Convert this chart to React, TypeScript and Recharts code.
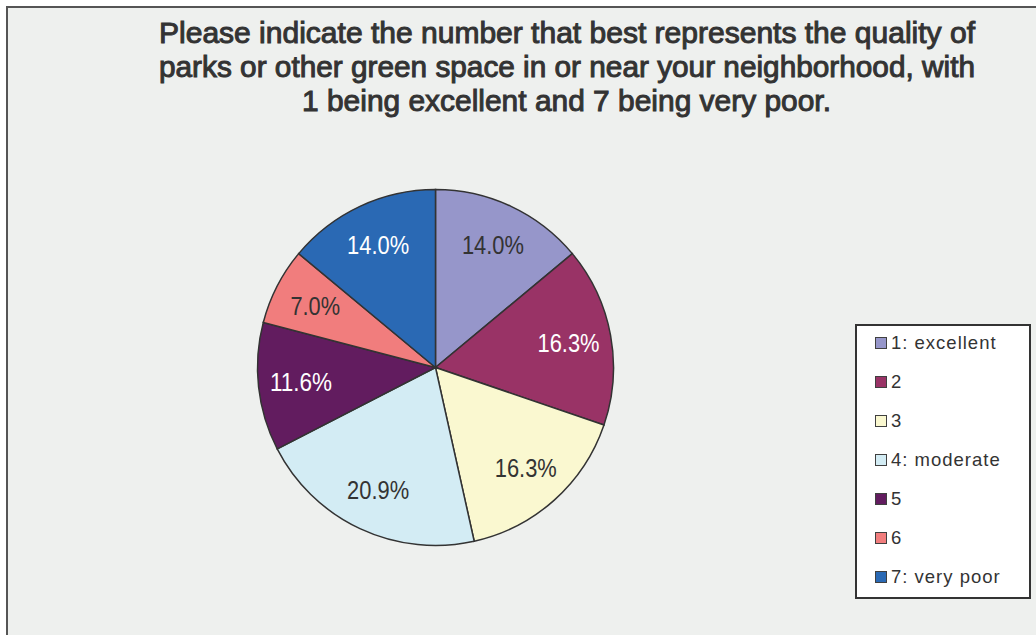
import React from 'react';
import { PieChart, Pie, Cell, Legend } from 'recharts';

const categories = ['1: excellent', '2', '3', '4: moderate', '5', '6', '7: very poor'];
const responses = [6, 7, 7, 9, 5, 3, 6];
const titleLines = [
  'Please indicate the number that best represents the quality of',
  'parks or other green space in or near your neighborhood, with',
  '1 being excellent and 7 being very poor.',
];

const COLORS = ['#9696CA', '#993366', '#FAF8D0', '#D3ECF4', '#621C5F', '#F17D7D', '#2A69B4'];
const LABEL_COLORS = ['#333333', '#ffffff', '#333333', '#333333', '#ffffff', '#333333', '#ffffff'];
const FONT = '"Liberation Sans", Arial, sans-serif';

const data = categories.map((name, i) => ({ name, value: responses[i] }));

const RAD = Math.PI / 180;

const renderLabel = (props: any) => {
  const { cx, cy, midAngle, outerRadius, percent, index } = props;
  const r = outerRadius * 0.76;
  const x = cx + r * Math.cos(-midAngle * RAD);
  const y = cy + r * Math.sin(-midAngle * RAD);
  const text = `${(percent * 100).toFixed(1)}%`;
  return (
    <text
      x={x}
      y={y}
      fill={LABEL_COLORS[index]}
      textAnchor="middle"
      dominantBaseline="central"
      fontFamily={FONT}
      fontSize={25}
      textLength={text.length * 12.4}
      lengthAdjust="spacingAndGlyphs"
    >
      {text}
    </text>
  );
};

const LegendBox = (props: any) => {
  const { payload = [] } = props;
  return (
    <div
      style={{
        width: 176,
        height: 275,
        boxSizing: 'border-box',
        border: '2px solid #333',
        background: '#fff',
        position: 'relative',
      }}
    >
      {payload.map((entry: any, i: number) => (
        <div
          key={entry.value}
          style={{
            position: 'absolute',
            left: 18,
            top: 17 + i * 39 - 12,
            height: 24,
            display: 'flex',
            alignItems: 'center',
            fontFamily: FONT,
            fontSize: 18.5,
            letterSpacing: 1,
            color: '#333',
            whiteSpace: 'nowrap',
          }}
        >
          <span
            style={{
              display: 'inline-block',
              width: 12,
              height: 12,
              boxSizing: 'border-box',
              border: '1.5px solid #404040',
              background: entry.color ?? COLORS[i],
              marginRight: 4,
            }}
          />
          {entry.value}
        </div>
      ))}
    </div>
  );
};

export default function App() {
  return (
    <div
      style={{
        position: 'absolute',
        left: 0,
        top: 0,
        width: 1036,
        height: 635,
        overflow: 'hidden',
        background: '#fff',
      }}
    >
      <div
        style={{
          position: 'absolute',
          left: 6,
          top: 6,
          width: 1100,
          height: 700,
          border: '2px solid #555',
          background: '#EEF0EE',
        }}
      />
      <div style={{ position: 'absolute', left: 0, top: 0 }}>
        <PieChart width={1036} height={635} margin={{ top: 0, right: 0, bottom: 0, left: 0 }}>
          <Pie
            data={data}
            dataKey="value"
            nameKey="name"
            cx={435.5}
            cy={367.5}
            outerRadius={178}
            startAngle={90}
            endAngle={-270}
            stroke="#333"
            strokeWidth={1.5}
            labelLine={false}
            label={renderLabel}
            isAnimationActive={false}
          >
            {data.map((d, i) => (
              <Cell key={d.name} fill={COLORS[i]} />
            ))}
          </Pie>
          <Legend
            layout="vertical"
            align="right"
            verticalAlign="middle"
            content={<LegendBox />}
            wrapperStyle={{ left: 855, top: 324, width: 176, height: 275, right: 'auto', bottom: 'auto' }}
          />
        </PieChart>
      </div>
      <svg
        width={1036}
        height={130}
        style={{ position: 'absolute', left: 0, top: 0, pointerEvents: 'none' }}
      >
        {titleLines.map((line, i) => (
          <text
            key={i}
            x={i === 2 ? 566.5 : 567}
            y={43 + i * 34}
            textAnchor="middle"
            textLength={i === 2 ? 529 : 816}
            lengthAdjust="spacingAndGlyphs"
            fontFamily={FONT}
            fontSize={30}
            fill="#333"
            stroke="#333"
            strokeWidth={1}
          >
            {line}
          </text>
        ))}
      </svg>
    </div>
  );
}
